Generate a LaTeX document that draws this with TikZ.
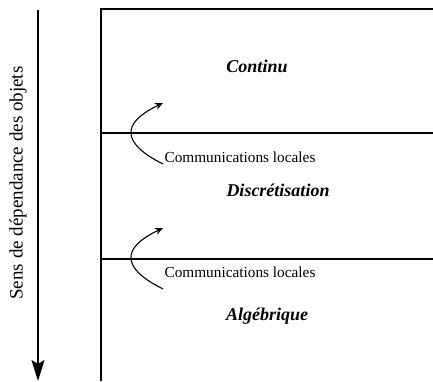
\documentclass[tikz,border=0pt]{standalone}
\usepackage{fontspec}
\setmainfont{Liberation Serif}
\usetikzlibrary{arrows.meta}
\begin{document}
\begin{tikzpicture}[x=1pt,y=-1pt,
  frame/.style={line width=1.1pt},
  layer/.style={font=\fontsize{18}{20}\selectfont\bfseries\itshape},
  comm/.style={font=\fontsize{15.3}{17}\selectfont},
  commarrow/.style={line width=1.1pt,-{Stealth[length=8pt,width=7pt]}},
  axis/.style={line width=1.1pt,-{Stealth[length=21pt,width=13pt,inset=4pt]}}]
\useasboundingbox (0,0) rectangle (433,381);
% dependency axis
\coordinate (atop) at (38,10);
\coordinate (abot) at (38,381);
\draw[axis] (atop) -- (abot);
\node[rotate=90,font=\fontsize{19}{21}\selectfont] (sens) at (18,183) {Sens de dépendance des objets};
% frame and layer separators
\coordinate (fbl) at (101,381);
\coordinate (ftl) at (101,9);
\coordinate (ftr) at (433,9);
\coordinate (s1l) at (101,133);
\coordinate (s1r) at (433,133);
\coordinate (s2l) at (101,259);
\coordinate (s2r) at (433,259);
\draw[frame] (fbl) -- (ftl) -- (ftr);
\draw[frame] (s1l) -- (s1r);
\draw[frame] (s2l) -- (s2r);
% layers
\node[layer] (cont) at (257,66) {Continu};
\node[layer] (disc) at (278,190) {Discrétisation};
\node[layer] (alg) at (267,316) {Algébrique};
% local communications
\coordinate (c1a) at (163,164);
\coordinate (c1b) at (163,103);
\draw[commarrow] (c1a) .. controls (121,143) and (121,123) .. (c1b);
\node[comm] (comm1) at (240,157) {Communications locales};
\coordinate (c2a) at (163,289);
\coordinate (c2b) at (163,228);
\draw[commarrow] (c2a) .. controls (121,268) and (121,248) .. (c2b);
\node[comm] (comm2) at (240,272) {Communications locales};
\end{tikzpicture}
\end{document}
